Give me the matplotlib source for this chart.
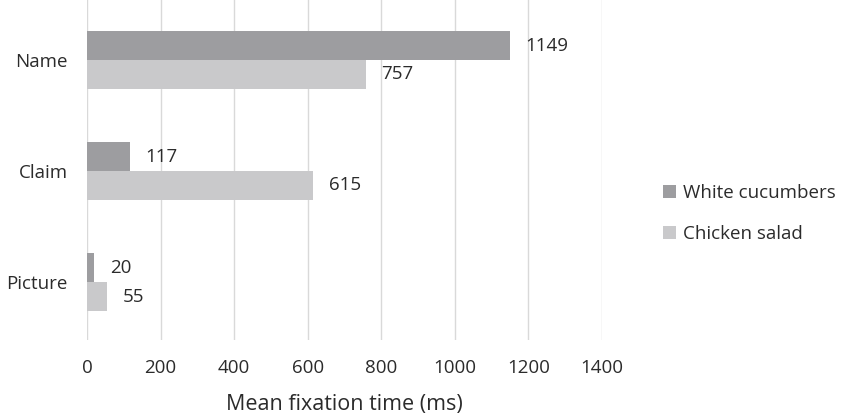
import numpy as np
import matplotlib
matplotlib.use("Agg")
import matplotlib.pyplot as plt

plt.rcParams['font.family'] = ['Open Sans', 'DejaVu Sans']

categories = ["Name", "Claim", "Picture"]
white_cucumbers = [1149, 117, 20]
chicken_salad = [757, 615, 55]

DARK = "#9d9da0"
LIGHT = "#c9c9cb"
TEXT = "#2b2b2b"
FS = 13.5

fig = plt.figure(figsize=(8.43, 4.16), dpi=100)
ax = fig.add_axes([0.1032, 0.183, 0.611, 0.817])

y = np.arange(len(categories))
h = 0.26
b1 = ax.barh(y - h / 2, white_cucumbers, height=h, color=DARK,
             label="White cucumbers", zorder=2)
b2 = ax.barh(y + h / 2, chicken_salad, height=h, color=LIGHT,
             label="Chicken salad", zorder=2)

# value labels just right of each bar end
for bars, vals in ((b1, white_cucumbers), (b2, chicken_salad)):
    for bar, v in zip(bars, vals):
        ax.text(v + 42, bar.get_y() + bar.get_height() / 2, f"{v}",
                va="center", ha="left", fontsize=FS, color=TEXT)

ax.set_xlim(0, 1400)
ax.set_xticks(np.arange(0, 1401, 200))
ax.set_ylim(2.52, -0.54)
ax.set_yticks(y)
ax.set_yticklabels(categories)
ax.tick_params(length=0, labelsize=FS, labelcolor=TEXT)
ax.tick_params(axis="x", pad=14)
ax.tick_params(axis="y", pad=14)
ax.grid(axis="x", color="#d9d9d9", lw=1, zorder=0)
for s in ax.spines.values():
    s.set_visible(False)
ax.set_xlabel("Mean fixation time (ms)", fontsize=15.5, color=TEXT, labelpad=12)

fig.legend(handles=[b1, b2], loc="upper left", bbox_to_anchor=(0.7865, 0.558),
           frameon=False, fontsize=FS, handlelength=0.7, handleheight=0.7,
           labelspacing=1.22, handletextpad=0.35, borderpad=0, borderaxespad=0,
           labelcolor=TEXT)

fig.savefig("out.png", dpi=100)
